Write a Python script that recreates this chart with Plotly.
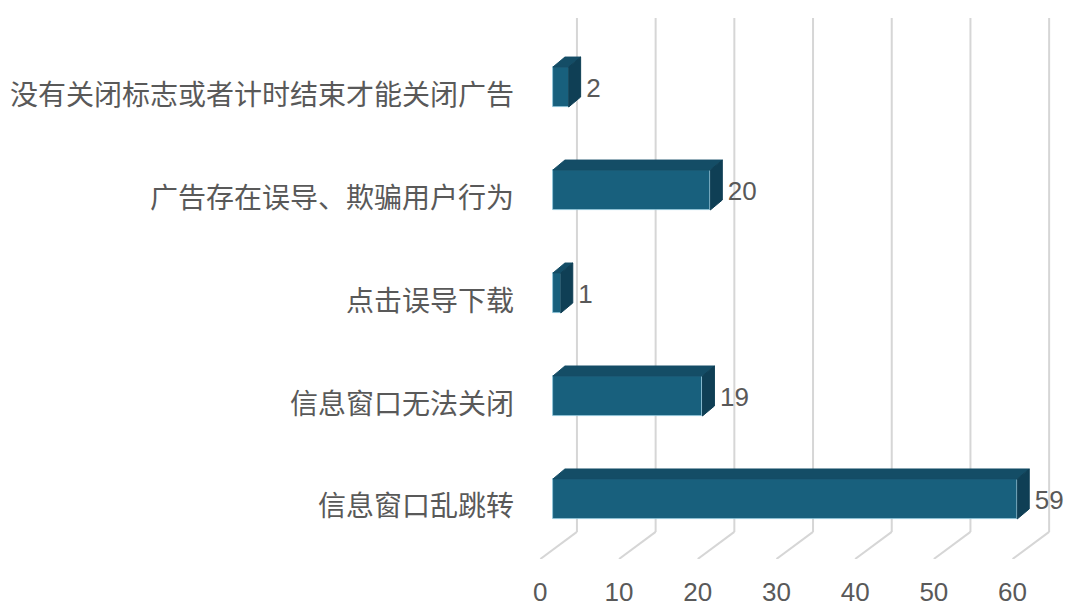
import plotly.graph_objects as go

categories = ["信息窗口乱跳转", "信息窗口无法关闭", "点击误导下载",
              "广告存在误导、欺骗用户行为", "没有关闭标志或者计时结束才能关闭广告"]
values = [59, 19, 1, 20, 2]
ticks = [0, 10, 20, 30, 40, 50, 60]

# fake 3d geometry (data units)
bar_h = 0.388
bar_dx, bar_dy = 1.52, 0.097
wall_dx = 3.05
floor_dx = -1.6
floor_front, floor_back = -0.583, -0.32
wall_top = 4.67

front_col = "#18607d"
top_col = "#144d66"
side_col = "#0f3f55"
grid_col = "#d6d6d6"
txt_col = "#595959"

fig = go.Figure()

# back wall grid lines + floor lines, kept under the bars
for t in ticks:
    fig.add_shape(type="line", x0=t + floor_dx, y0=floor_front,
                  x1=t + wall_dx, y1=floor_back,
                  line=dict(color=grid_col, width=2), layer="below")
    fig.add_shape(type="line", x0=t + wall_dx, y0=floor_back,
                  x1=t + wall_dx, y1=wall_top,
                  line=dict(color=grid_col, width=2), layer="below")

ypos = list(range(len(categories)))

# top and side faces
for y, v in zip(ypos, values):
    top = y + bar_h / 2
    bot = y - bar_h / 2
    fig.add_trace(go.Scatter(
        x=[0, v, v + bar_dx, bar_dx, 0],
        y=[top, top, top + bar_dy, top + bar_dy, top],
        fill="toself", fillcolor=top_col, mode="lines",
        line=dict(color=top_col, width=1), hoverinfo="skip", showlegend=False))
    fig.add_trace(go.Scatter(
        x=[v, v + bar_dx, v + bar_dx, v, v],
        y=[bot, bot + bar_dy, top + bar_dy, top, bot],
        fill="toself", fillcolor=side_col, mode="lines",
        line=dict(color=side_col, width=1), hoverinfo="skip", showlegend=False))

# front faces
fig.add_trace(go.Bar(
    x=values, y=ypos, orientation="h", width=bar_h, base=0,
    marker=dict(color=front_col, line=dict(color="#8ec6dc", width=0.8)),
    hoverinfo="x", showlegend=False))

# value labels
fig.add_trace(go.Scatter(
    x=[v + bar_dx + 0.7 for v in values], y=[y - 0.03 for y in ypos],
    mode="text", text=[str(v) for v in values], textposition="middle right",
    textfont=dict(size=26, color=txt_col, family="Liberation Sans, Arial"),
    hoverinfo="skip", showlegend=False))

# page body has an 8px margin, so the figure is sized to fit the window
fig.update_layout(
    width=1072, height=607,
    margin=dict(l=522, r=10, t=2, b=56),
    plot_bgcolor="white", paper_bgcolor="white",
    bargap=0,
    xaxis=dict(range=[-2.66, 65.7], showgrid=False, zeroline=False,
               showline=False, tickmode="array",
               tickvals=[t + floor_dx for t in ticks],
               ticktext=[str(t) for t in ticks], ticks="",
               ticklabelstandoff=15,
               tickfont=dict(size=26, color=txt_col, family="Liberation Sans, Arial"),
               fixedrange=True),
    yaxis=dict(range=[-0.583, 4.748], showgrid=False, zeroline=False,
               showline=False, tickmode="array",
               tickvals=[y - 0.075 for y in ypos], ticktext=categories,
               ticks="", ticklabelstandoff=17,
               tickfont=dict(size=28, color=txt_col, family="Noto Sans CJK SC"),
               fixedrange=True),
)

fig.write_html("out.html")
